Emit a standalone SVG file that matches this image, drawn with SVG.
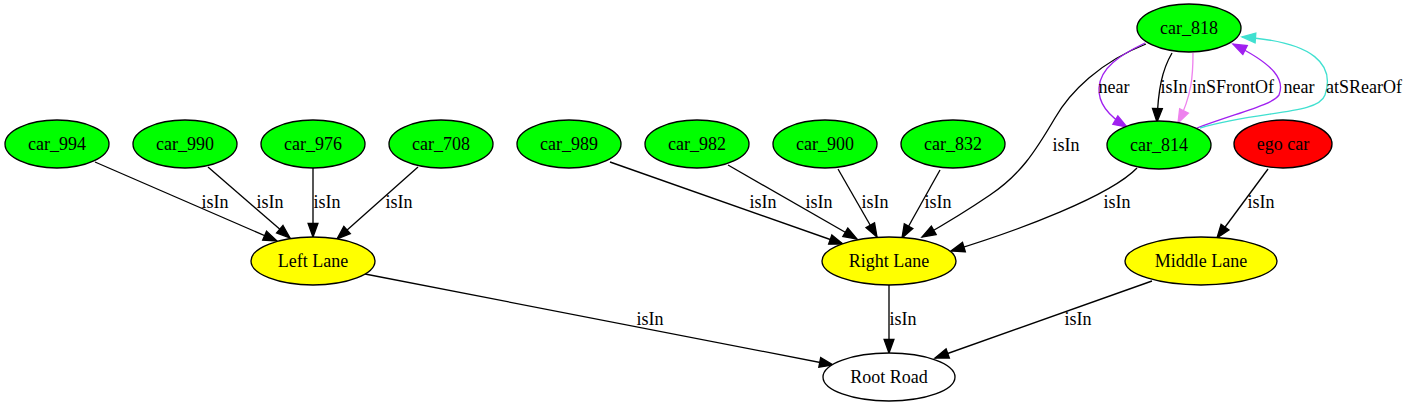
<svg xmlns="http://www.w3.org/2000/svg" width="1409" height="407" viewBox="0 0 1409 407">
<style>
  text { font-family: "Liberation Serif", "Times New Roman", serif; font-size: 18px; fill: #000; }
  .node text { text-anchor: middle; }
  .lbl { text-anchor: middle; }
  ellipse { stroke: #000; stroke-width: 1.33; }
  .car { fill: #00ff00; }
  .ego { fill: #ff0000; }
  .lane { fill: #ffff00; }
  .road { fill: #ffffff; }
  .edge { fill: none; stroke-width: 1.33; }
  .k { stroke: #000; marker-end: url(#ak); }
  .p { stroke: #a020f0; marker-end: url(#ap); }
  .v { stroke: #ee82ee; marker-end: url(#av); }
  .t { stroke: #40e0d0; marker-end: url(#at); }
</style>
<defs>
  <marker id="ak" markerUnits="userSpaceOnUse" viewBox="-1 -1 16 12" markerWidth="16" markerHeight="12" refX="13.5" refY="4.9" orient="auto" overflow="visible">
    <path d="M0,0 L13.5,4.9 L0,9.8 z" fill="#000" stroke="#000" stroke-width="1.33"/>
  </marker>
  <marker id="ap" markerUnits="userSpaceOnUse" viewBox="-1 -1 16 12" markerWidth="16" markerHeight="12" refX="13.5" refY="4.9" orient="auto" overflow="visible">
    <path d="M0,0 L13.5,4.9 L0,9.8 z" fill="#a020f0" stroke="#a020f0" stroke-width="1.33"/>
  </marker>
  <marker id="av" markerUnits="userSpaceOnUse" viewBox="-1 -1 16 12" markerWidth="16" markerHeight="12" refX="13.5" refY="4.9" orient="auto" overflow="visible">
    <path d="M0,0 L13.5,4.9 L0,9.8 z" fill="#ee82ee" stroke="#ee82ee" stroke-width="1.33"/>
  </marker>
  <marker id="at" markerUnits="userSpaceOnUse" viewBox="-1 -1 16 12" markerWidth="16" markerHeight="12" refX="13.5" refY="4.9" orient="auto" overflow="visible">
    <path d="M0,0 L13.5,4.9 L0,9.8 z" fill="#40e0d0" stroke="#40e0d0" stroke-width="1.33"/>
  </marker>
</defs>
<rect width="1409" height="407" fill="#ffffff"/>

<g id="connectors">
  <path class="edge k" d="M95,162 L277,241"/>
  <path class="edge k" d="M208,167 L290,238"/>
  <path class="edge k" d="M313,168 L313,237"/>
  <path class="edge k" d="M418,167 L337,239"/>
  <path class="edge k" d="M610,162 L843,244"/>
  <path class="edge k" d="M728,165 L857,239"/>
  <path class="edge k" d="M838,169 L877,237"/>
  <path class="edge k" d="M940,170 L902,238"/>
  <path class="edge k" d="M1137,168 C1110,196 1020,230 951,251"/>
  <path class="edge k" d="M1146,44 C1100,62 1070,92 1055,118 C1035,152 1020,175 990,195 C968,210 945,224 922,237"/>
  <path class="edge p" d="M1145,43 C1120,55 1100,68 1099,88 C1098,105 1110,117 1127,127"/>
  <path class="edge k" d="M1172,53 C1162,70 1158,90 1157,122"/>
  <path class="edge v" d="M1193,53 C1193,75 1192,95 1178,123"/>
  <path class="edge p" d="M1197,128 C1240,112 1272,105 1279,95 C1285,80 1275,65 1233,44"/>
  <path class="edge t" d="M1200,128 C1260,110 1318,115 1325,95 C1335,65 1315,42 1242,37"/>
  <path class="edge k" d="M1268,169 L1217,238"/>
  <path class="edge k" d="M365,274 L833,365"/>
  <path class="edge k" d="M889,285 L889,353"/>
  <path class="edge k" d="M1152,281 L935,358"/>

  <text class="lbl" x="215" y="208">isIn</text>
  <text class="lbl" x="270" y="208">isIn</text>
  <text class="lbl" x="327" y="208">isIn</text>
  <text class="lbl" x="399" y="208">isIn</text>
  <text class="lbl" x="763" y="208">isIn</text>
  <text class="lbl" x="819" y="208">isIn</text>
  <text class="lbl" x="875" y="208">isIn</text>
  <text class="lbl" x="938" y="208">isIn</text>
  <text class="lbl" x="1066" y="151">isIn</text>
  <text class="lbl" x="1117" y="208">isIn</text>
  <text class="lbl" x="1261" y="208">isIn</text>
  <text class="lbl" x="650" y="325">isIn</text>
  <text class="lbl" x="903" y="325">isIn</text>
  <text class="lbl" x="1078" y="325">isIn</text>
  <text class="lbl" x="1114" y="93">near</text>
  <text class="lbl" x="1174" y="93">isIn</text>
  <text class="lbl" x="1233" y="93">inSFrontOf</text>
  <text class="lbl" x="1299" y="93">near</text>
  <text class="lbl" x="1364" y="93">atSRearOf</text>
</g>

<g id="car_994" class="node"><ellipse class="car" cx="57" cy="144" rx="52" ry="24"/><text x="57" y="150">car_994</text></g>
<g id="car_990" class="node"><ellipse class="car" cx="185" cy="144" rx="52" ry="24"/><text x="185" y="150">car_990</text></g>
<g id="car_976" class="node"><ellipse class="car" cx="313" cy="144" rx="52" ry="24"/><text x="313" y="150">car_976</text></g>
<g id="car_708" class="node"><ellipse class="car" cx="441" cy="144" rx="52" ry="24"/><text x="441" y="150">car_708</text></g>
<g id="car_989" class="node"><ellipse class="car" cx="569" cy="144" rx="52" ry="24"/><text x="569" y="150">car_989</text></g>
<g id="car_982" class="node"><ellipse class="car" cx="697" cy="144" rx="52" ry="24"/><text x="697" y="150">car_982</text></g>
<g id="car_900" class="node"><ellipse class="car" cx="825" cy="144" rx="52" ry="24"/><text x="825" y="150">car_900</text></g>
<g id="car_832" class="node"><ellipse class="car" cx="953" cy="144" rx="52" ry="24"/><text x="953" y="150">car_832</text></g>
<g id="car_814" class="node"><ellipse class="car" cx="1159" cy="145" rx="52" ry="24"/><text x="1159" y="151">car_814</text></g>
<g id="ego_car" class="node"><ellipse class="ego" cx="1283" cy="144" rx="49" ry="24"/><text x="1283" y="150">ego car</text></g>
<g id="car_818" class="node"><ellipse class="car" cx="1189" cy="28" rx="52" ry="24"/><text x="1189" y="34">car_818</text></g>
<g id="left_lane" class="node"><ellipse class="lane" cx="313" cy="261" rx="62" ry="24"/><text x="313" y="267">Left Lane</text></g>
<g id="right_lane" class="node"><ellipse class="lane" cx="889" cy="261" rx="67" ry="24"/><text x="889" y="267">Right Lane</text></g>
<g id="middle_lane" class="node"><ellipse class="lane" cx="1201" cy="261" rx="76" ry="24"/><text x="1201" y="267">Middle Lane</text></g>
<g id="root_road" class="node"><ellipse class="road" cx="889" cy="377" rx="66" ry="24"/><text x="889" y="383">Root Road</text></g>
</svg>
